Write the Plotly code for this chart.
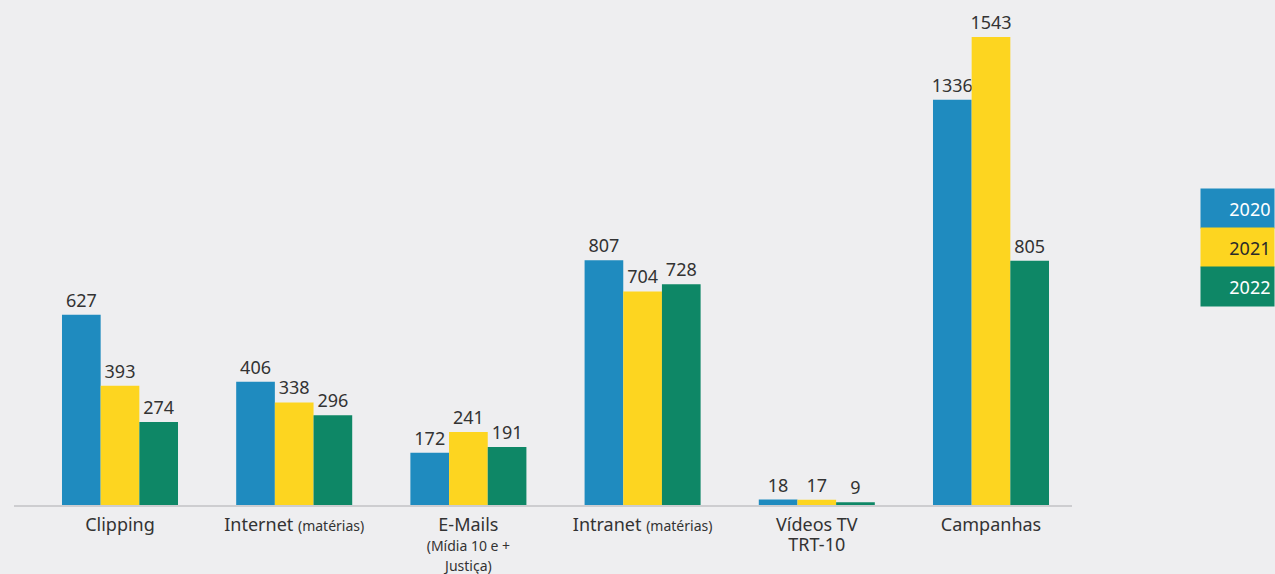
import plotly.graph_objects as go

categories = ["Clipping", "Internet (matérias)", "E-Mails (Mídia 10 e + Justiça)",
              "Intranet (matérias)", "Vídeos TV TRT-10", "Campanhas"]
big = "<span style='font-size:18px'>%s</span>"
small = "<span style='font-size:14px'>%s</span>"
tick_labels = [big % "Clipping",
               big % "Internet " + small % "(matérias)",
               big % "E-Mails" + "<br>" + small % "(Mídia 10 e +" + "<br>" + small % "Justiça)",
               big % "Intranet " + small % "(matérias)",
               big % "Vídeos TV" + "<br>" + big % "TRT-10",
               big % "Campanhas"]
years = ["2020", "2021", "2022"]
v2020 = [627, 406, 172, 807, 18, 1336]
v2021 = [393, 338, 241, 704, 17, 1543]
v2022 = [274, 296, 191, 728, 9, 805]
colors = ["#1f8bbf", "#fdd520", "#0e8766"]
bg = "#eeeef0"

fig = go.Figure()
for name, vals, c in zip(years, [v2020, v2021, v2022], colors):
    fig.add_trace(go.Bar(
        x=categories, y=vals, name=name, marker=dict(color=c, line=dict(width=0)),
        text=[str(v) for v in vals], textposition="outside",
        textfont=dict(size=18, color="#333333"), cliponaxis=False,
        showlegend=False,
    ))

fig.update_layout(
    width=1275, height=574,
    paper_bgcolor=bg, plot_bgcolor=bg,
    margin=dict(l=14, r=203, t=20, b=69, autoexpand=False),
    barmode="group", bargap=0.334, bargroupgap=0,
    uniformtext=dict(minsize=18, mode="show"),
    font=dict(family="Noto Sans, Open Sans, sans-serif", color="#333333"),
    xaxis=dict(tickmode="array", tickvals=categories, ticktext=tick_labels,
               tickfont=dict(size=15.5, color="#333333"), showline=True,
               linecolor="#cdcdd0", linewidth=2, ticks="outside", ticklen=5,
               tickcolor=bg, showgrid=False, automargin=False,
               range=[-0.6085, 5.465]),
    yaxis=dict(range=[0, 1599], visible=False, showgrid=False, zeroline=False,
               automargin=False),
)

# Legend as colored blocks
text_colors = ["#ffffff", "#2a2a2a", "#ffffff"]
for i, (name, c, tc) in enumerate(zip(years, colors, text_colors)):
    fig.add_annotation(
        xref="paper", yref="paper", x=1.0 + 203 / 1058, xanchor="right",
        y=(505 - 189 - 39 * i - 19.5) / 485, yanchor="middle",
        text=name, showarrow=False, bgcolor=c, width=66, height=32,
        align="right", font=dict(size=18, color=tc), borderpad=3.5,
    )

fig.write_html("out.html", config={"displayModeBar": False},
               post_script="document.body.style.margin='0';document.body.style.overflow='hidden';")
